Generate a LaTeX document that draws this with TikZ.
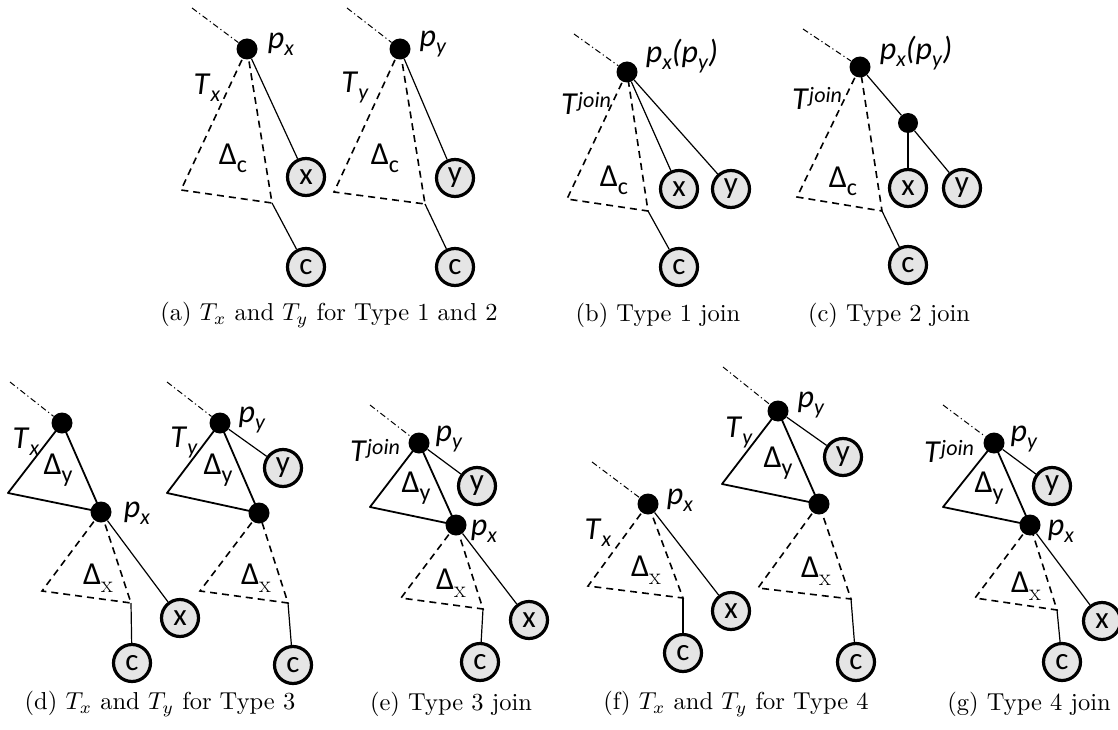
\documentclass[tikz,border=0pt]{standalone}
\usepackage{fontspec}
\usepackage{graphicx}
\newfontfamily\lblfont{Carlito}
\newcommand\itsub[2]{\textit{#1}\raisebox{-7pt}{\fontsize{22}{22}\selectfont\textit{#2}}}
\newcommand\itsup[2]{\textit{#1}\raisebox{7pt}{\fontsize{22}{22}\selectfont\textit{#2}}}
\newcommand\dsub[1]{Δ\raisebox{-8pt}{\fontsize{24}{24}\selectfont #1}}

\begin{document}
\begin{tikzpicture}[
  x=1pt, y=-1pt,
  dot/.style={circle, fill=black, inner sep=0pt, minimum size=21pt},
  leaf/.style={circle, draw, line width=3.2pt, fill=black!10, inner sep=0pt, minimum size=37pt, font=\lblfont\fontsize{31}{32}\selectfont},
  lbl/.style={inner sep=0pt, font=\lblfont\fontsize{32}{34}\selectfont},
  capt/.style={inner sep=0pt},
  edge/.style={line width=1.2pt},
  tri/.style={line width=1.8pt, line join=round},
  dtri/.style={line width=1.6pt, dash pattern=on 7pt off 5pt},
  up/.style={line width=1pt, dash pattern=on 6pt off 3pt on 1.2pt off 3pt}
]
\useasboundingbox (0,0) rectangle (1118,730);

% (a) T_x and T_y for Type 1 and 2
\coordinate (ta1) at (192,8);
\node[dot] (rxa) at (247,49) {};
\node[lbl] (pxa) at (281,44) {\itsub{p}{x}};
\node[lbl] (txa) at (207,88) {\itsub{T}{x}};
\coordinate (la1) at (181,190);
\coordinate (ra1) at (272,203);
\node[lbl] (dca1) at (233,158) {\dsub{c}};
\node[leaf] (xa) at (306,177) {x};
\node[leaf] (ca1) at (306,267) {c};
\draw[up] (ta1) -- (rxa);
\draw[dtri] (rxa.center) -- (la1) -- (ra1) -- cycle;
\draw[edge] (rxa) -- (xa);
\draw[edge] (ra1) -- (ca1);

\coordinate (ta2) at (347,8);
\node[dot] (rya) at (400,49) {};
\node[lbl] (pya) at (433,44) {\itsub{p}{y}};
\node[lbl] (tya) at (355,88) {\itsub{T}{y}};
\coordinate (la2) at (334,192);
\coordinate (ra2) at (425,204);
\node[lbl] (dca2) at (385,158) {\dsub{c}};
\node[leaf] (ya) at (455,178) {y};
\node[leaf] (ca2) at (455,267) {c};
\draw[up] (ta2) -- (rya);
\draw[dtri] (rya.center) -- (la2) -- (ra2) -- cycle;
\draw[edge] (rya) -- (ya);
\draw[edge] (ra2) -- (ca2);

\node[capt] (capa) at (329,315) {\scalebox{2.45}{(a) $T_x$ and $T_y$ for Type 1 and 2}};

% (b) Type 1 join
\coordinate (tb) at (574,34);
\node[dot] (rb) at (627,72) {};
\node[lbl] (pb) at (682,56) {\itsub{p}{x}\textit{(}\itsub{p}{y}\textit{)}};
\node[lbl] (jb) at (586,103) {\itsup{T}{join}};
\coordinate (lb) at (567,199);
\coordinate (rcb) at (648,211);
\node[lbl] (dcb) at (614,180) {\dsub{c}};
\node[leaf] (xb) at (679,189) {x};
\node[leaf] (yb) at (731,189) {y};
\node[leaf] (cb) at (679,267) {c};
\draw[up] (tb) -- (rb);
\draw[dtri] (rb.center) -- (lb) -- (rcb) -- cycle;
\draw[edge] (rb) -- (xb);
\draw[edge] (rb) -- (yb);
\draw[edge] (rcb) -- (cb);

\node[capt] (capb) at (658,315) {\scalebox{2.45}{(b) Type 1 join}};

% (c) Type 2 join
\coordinate (tc) at (803,29);
\node[dot] (rc) at (860,67) {};
\node[lbl] (pc) at (916,53) {\itsub{p}{x}\textit{(}\itsub{p}{y}\textit{)}};
\node[lbl] (jc) at (817,98) {\itsup{T}{join}};
\node[dot, minimum size=20pt] (mc) at (908,123) {};
\coordinate (lc) at (797,197);
\coordinate (rcc) at (882,211);
\node[lbl] (dcc) at (843,181) {\dsub{c}};
\node[leaf] (xc) at (908,188) {x};
\node[leaf] (yc) at (962,188) {y};
\node[leaf] (cc) at (908,265) {c};
\draw[up] (tc) -- (rc);
\draw[dtri] (rc.center) -- (lc) -- (rcc) -- cycle;
\draw[edge] (rc) -- (mc);
\draw[edge] (mc) -- (xc);
\draw[edge] (mc) -- (yc);
\draw[edge] (rcc) -- (cc);

\node[capt] (capc) at (889,315) {\scalebox{2.45}{(c) Type 2 join}};

% (d) T_x and T_y for Type 3
\coordinate (td1) at (10,382);
\node[dot] (rxd) at (62,423) {};
\node[lbl] (txd) at (26,442) {\itsub{T}{x}};
\coordinate (sd1) at (8,493);
\node[dot] (pxd) at (101,512) {};
\node[lbl] (dyd1) at (58,470) {\dsub{y}};
\node[lbl] (pxdl) at (137,513) {\itsub{p}{x}};
\coordinate (ld1) at (42,591);
\coordinate (rd1) at (131,603);
\node[lbl] (dxd1) at (98,578) {\dsub{\rmfamily x}};
\node[leaf] (xd) at (180,618) {x};
\node[leaf] (cd1) at (132,663) {c};
\draw[up] (td1) -- (rxd);
\draw[tri] (rxd.center) -- (sd1) -- (pxd.center) -- cycle;
\draw[dtri] (pxd.center) -- (ld1) -- (rd1) -- cycle;
\draw[edge] (pxd) -- (xd);
\draw[edge] (rd1) -- (cd1);

\coordinate (td2) at (167,382);
\node[dot] (ryd) at (220,423) {};
\node[lbl] (tyd) at (184,443) {\itsub{T}{y}};
\node[lbl] (pyd) at (252,420) {\itsub{p}{y}};
\coordinate (sd2) at (167,493);
\node[dot] (qd) at (259,513) {};
\node[leaf] (yd) at (283,468) {y};
\node[lbl] (dyd2) at (218,470) {\dsub{y}};
\coordinate (ld2) at (200,591);
\coordinate (rd2) at (288,603);
\node[lbl] (dxd2) at (256,578) {\dsub{\rmfamily x}};
\node[leaf] (cd2) at (293,665) {c};
\draw[up] (td2) -- (ryd);
\draw[tri] (ryd.center) -- (sd2) -- (qd.center) -- cycle;
\draw[edge] (ryd) -- (yd);
\draw[dtri] (qd.center) -- (ld2) -- (rd2) -- cycle;
\draw[edge] (rd2) -- (cd2);

\node[capt] (capd) at (160,704) {\scalebox{2.45}{(d) $T_x$ and $T_y$ for Type 3}};

% (e) Type 3 join
\coordinate (te) at (370,405);
\node[dot] (rye) at (419,443) {};
\node[lbl] (je) at (375,450) {\itsup{T}{join}};
\node[lbl] (pye) at (449,439) {\itsub{p}{y}};
\node[leaf] (ye) at (477,486) {y};
\coordinate (se) at (370,507);
\node[dot] (pxe) at (456,525) {};
\node[lbl] (dye) at (416,488) {\dsub{y}};
\node[lbl] (pxel) at (484,531) {\itsub{p}{x}};
\coordinate (le) at (401,598);
\coordinate (re) at (483,609);
\node[lbl] (dxe) at (451,583) {\dsub{\rmfamily x}};
\node[leaf] (xe) at (529,620) {x};
\node[leaf] (ce) at (480,662) {c};
\draw[up] (te) -- (rye);
\draw[tri] (rye.center) -- (se) -- (pxe.center) -- cycle;
\draw[edge] (rye) -- (ye);
\draw[dtri] (pxe.center) -- (le) -- (re) -- cycle;
\draw[edge] (pxe) -- (xe);
\draw[edge] (re) -- (ce);

\node[capt] (cape) at (451,704) {\scalebox{2.45}{(e) Type 3 join}};

% (f) T_x and T_y for Type 4
\coordinate (tf1) at (592,462);
\node[dot] (rxf) at (648,504) {};
\node[lbl] (pxf) at (680,500) {\itsub{p}{x}};
\node[lbl] (txf) at (598,533) {\itsub{T}{x}};
\coordinate (lf1) at (588,586);
\coordinate (rf1) at (683,598);
\node[lbl] (dxf1) at (646,570) {\dsub{\rmfamily x}};
\node[leaf] (xf) at (731,611) {x};
\node[leaf] (cf1) at (683,653) {c};
\draw[up] (tf1) -- (rxf);
\draw[dtri] (rxf.center) -- (lf1) -- (rf1) -- cycle;
\draw[edge] (rxf) -- (xf);
\draw[edge] (rf1) -- (cf1);

\coordinate (tf2) at (723,367);
\node[dot] (ryf) at (778,411) {};
\node[lbl] (pyf) at (811,405) {\itsub{p}{y}};
\node[lbl] (tyf) at (739,433) {\itsub{T}{y}};
\coordinate (sf) at (722,484);
\node[dot] (qf) at (819,504) {};
\node[leaf] (yf) at (843,457) {y};
\node[lbl] (dyf) at (778,463) {\dsub{y}};
\coordinate (lf2) at (758,588);
\coordinate (rf2) at (851,599);
\node[lbl] (dxf2) at (816,571) {\dsub{\rmfamily x}};
\node[leaf] (cf2) at (856,662) {c};
\draw[up] (tf2) -- (ryf);
\draw[tri] (ryf.center) -- (sf) -- (qf.center) -- cycle;
\draw[edge] (ryf) -- (yf);
\draw[dtri] (qf.center) -- (lf2) -- (rf2) -- cycle;
\draw[edge] (rf2) -- (cf2);

\node[capt] (capf) at (736,704) {\scalebox{2.45}{(f) $T_x$ and $T_y$ for Type 4}};

% (g) Type 4 join
\coordinate (tg) at (943,405);
\node[dot] (ryg) at (994,443) {};
\node[lbl] (jg) at (949,451) {\itsup{T}{join}};
\node[lbl] (pyg) at (1024,439) {\itsub{p}{y}};
\node[leaf] (yg) at (1052,486) {y};
\coordinate (sg) at (943,507);
\node[dot] (pxg) at (1030,525) {};
\node[lbl] (dyg) at (989,488) {\dsub{y}};
\node[lbl] (pxgl) at (1061,531) {\itsub{p}{x}};
\coordinate (lg) at (975,598);
\coordinate (rg) at (1057,610);
\node[lbl] (dxg) at (1026,586) {\dsub{\rmfamily x}};
\node[leaf] (xg) at (1102,621) {x};
\node[leaf] (cg) at (1062,662) {c};
\draw[up] (tg) -- (ryg);
\draw[tri] (ryg.center) -- (sg) -- (pxg.center) -- cycle;
\draw[edge] (ryg) -- (yg);
\draw[dtri] (pxg.center) -- (lg) -- (rg) -- cycle;
\draw[edge] (pxg) -- (xg);
\draw[edge] (rg) -- (cg);

\node[capt] (capg) at (1029,704) {\scalebox{2.45}{(g) Type 4 join}};
\end{tikzpicture}
\end{document}
